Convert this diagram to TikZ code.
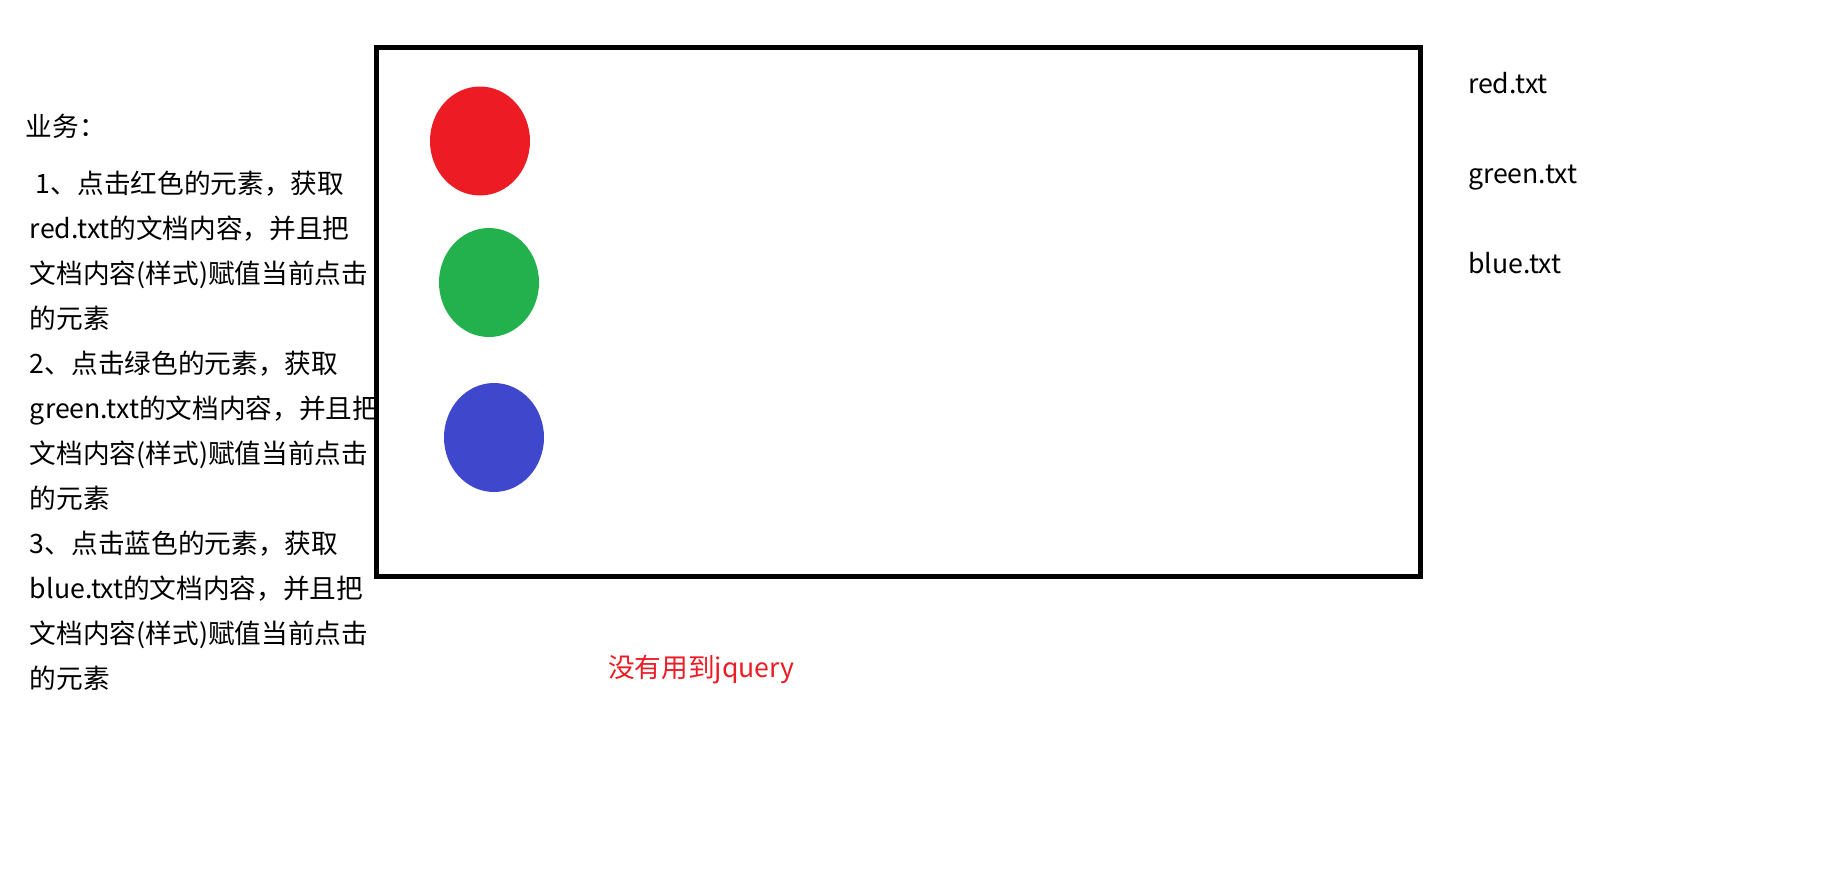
\documentclass[tikz,border=0pt]{standalone}
\usepackage{fontspec}
\setmainfont{Noto Sans CJK SC}
\usetikzlibrary{shapes.geometric}
\definecolor{pred}{HTML}{ED1C24}
\definecolor{pgreen}{HTML}{22B14C}
\definecolor{pblue}{HTML}{3F48CC}
\begin{document}
\begin{tikzpicture}[x=0.75pt,y=-0.75pt,
  txt/.style={anchor=base west, inner sep=0, outer sep=0, font=\fontsize{20pt}{24pt}\selectfont},
  dot/.style={ellipse, inner sep=0, draw=none, minimum width=75pt, minimum height=81.75pt}]
\useasboundingbox (0,0) rectangle (1829,889);
% left description
\node[txt] (t0) at (26,136) {业务：};
\node[txt] (t1) at (30,193.5) {\ 1、点击红色的元素，获取};
\node[txt] (t2) at (30,238.5) {red.txt的文档内容，并且把};
\node[txt] (t3) at (30,283.5) {文档内容(样式)赋值当前点击};
\node[txt] (t4) at (30,328.5) {的元素};
\node[txt] (t5) at (30,373.5) {2、点击绿色的元素，获取};
\node[txt] (t6) at (30,418.5) {green.txt的文档内容，并且把};
\node[txt] (t7) at (30,463.5) {文档内容(样式)赋值当前点击};
\node[txt] (t8) at (30,508.5) {的元素};
\node[txt] (t9) at (30,553.5) {3、点击蓝色的元素，获取};
\node[txt] (t10) at (30,598.5) {blue.txt的文档内容，并且把};
\node[txt] (t11) at (30,643.5) {文档内容(样式)赋值当前点击};
\node[txt] (t12) at (30,688.5) {的元素};
% frame
\draw[line width=3.75pt] (376.5,47.5) rectangle (1420,576);
% circles
\node[dot, fill=pred] (red) at (480,141) {};
\node[dot, fill=pgreen] (green) at (489,282.5) {};
\node[dot, fill=pblue] (blue) at (494,437.5) {};
% right labels
\node[txt] (rt) at (1468,93) {red.txt};
\node[txt] (gt) at (1468,183) {green.txt};
\node[txt] (bt) at (1468,273) {blue.txt};
% note
\node[txt, text=pred] (note) at (608,677) {没有用到jquery};
\end{tikzpicture}
\end{document}
